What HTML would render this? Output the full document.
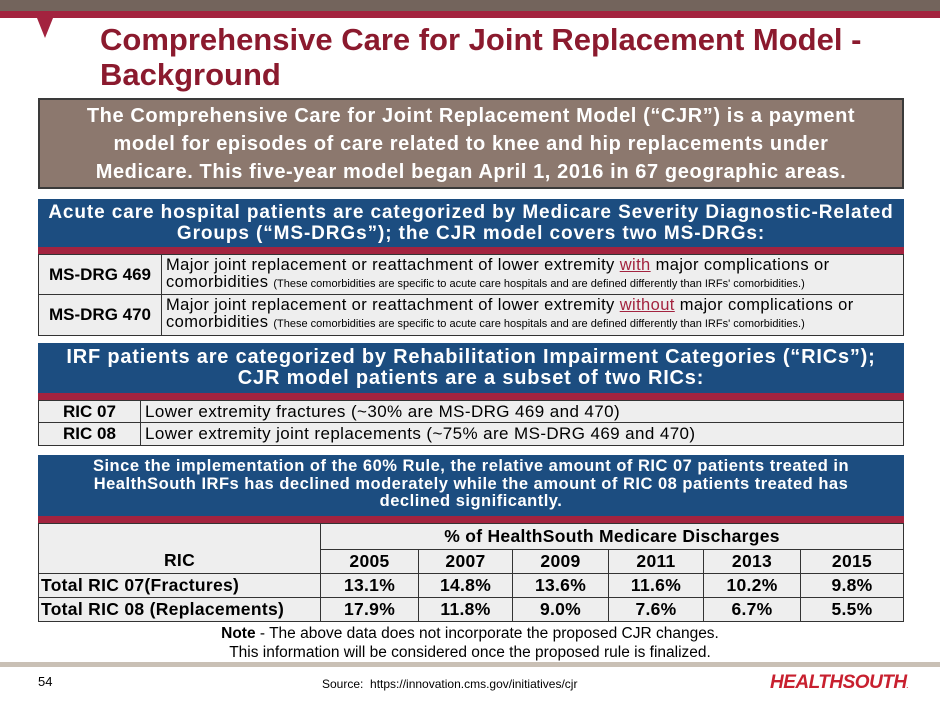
<!DOCTYPE html>
<html><head><meta charset="utf-8">
<style>
*{margin:0;padding:0;box-sizing:border-box}
body{width:940px;height:705px;position:relative;background:#fff;font-family:"Liberation Sans",Arial,sans-serif;overflow:hidden}
.a{position:absolute}
.blue{background:#1c4d80;color:#fff;font-weight:bold;text-align:center;white-space:nowrap}
.red{background:#a3233f}
table{border-collapse:collapse}
td{border:1px solid #333;background:#eeeeee;white-space:nowrap}
.lbl{font-weight:bold;text-align:center;font-size:17px}
</style></head><body>
<div class="a" style="left:0;top:0;width:940px;height:11px;background:#73645c"></div>
<div class="a red" style="left:0;top:11px;width:940px;height:7px"></div>
<div class="a" style="left:37px;top:18px;width:0;height:0;border-left:8px solid transparent;border-right:8px solid transparent;border-top:20px solid #a3233f"></div>
<div class="a" style="left:100px;top:22px;width:840px;font-size:31px;line-height:35px;font-weight:bold;color:#8b1a2e">Comprehensive Care for Joint Replacement Model -<br>Background</div>
<div class="a" style="left:38px;top:98px;width:866px;height:91px;background:#8c786e;border:2px solid #3a3a3a;color:#fff;font-weight:bold;font-size:20px;letter-spacing:0.6px;line-height:28px;text-align:center;padding-top:2px;white-space:nowrap">The Comprehensive Care for Joint Replacement Model (“CJR”) is a payment<br>model for episodes of care related to knee and hip replacements under<br>Medicare. This five-year model began April 1, 2016 in 67 geographic areas.</div>

<div class="a blue" style="left:38px;top:199px;width:866px;height:48px;font-size:19px;letter-spacing:0.9px;line-height:21px;padding-top:3px">Acute care hospital patients are categorized by Medicare Severity Diagnostic-Related<br>Groups (“MS-DRGs”); the CJR model covers two MS-DRGs:</div>
<div class="a red" style="left:38px;top:247px;width:866px;height:7px"></div>
<table class="a" style="left:38px;top:254px;width:866px">
<tr style="height:40px"><td class="lbl" style="width:123px">MS-DRG 469</td><td style="font-size:16.5px;letter-spacing:0.4px;line-height:17px;padding-left:4px">Major joint replacement or reattachment of lower extremity <span style="color:#a3233f;text-decoration:underline">with</span> major complications or<br>comorbidities <span style="font-size:11px;letter-spacing:0">(These comorbidities are specific to acute care hospitals and are defined differently than IRFs' comorbidities.)</span></td></tr>
<tr style="height:41px"><td class="lbl">MS-DRG 470</td><td style="font-size:16.5px;letter-spacing:0.4px;line-height:17px;padding-left:4px">Major joint replacement or reattachment of lower extremity <span style="color:#a3233f;text-decoration:underline">without</span> major complications or<br>comorbidities <span style="font-size:11px;letter-spacing:0">(These comorbidities are specific to acute care hospitals and are defined differently than IRFs' comorbidities.)</span></td></tr>
</table>

<div class="a blue" style="left:38px;top:343px;width:866px;height:50px;font-size:20px;letter-spacing:0.8px;line-height:21px;padding-top:4px">IRF patients are categorized by Rehabilitation Impairment Categories (“RICs”);<br>CJR model patients are a subset of two RICs:</div>
<div class="a red" style="left:38px;top:393px;width:866px;height:7px"></div>
<table class="a" style="left:38px;top:400px;width:866px">
<tr style="height:22px"><td class="lbl" style="width:102px">RIC 07</td><td style="font-size:17px;letter-spacing:0.4px;padding-left:4px">Lower extremity fractures (~30% are MS-DRG 469 and 470)</td></tr>
<tr style="height:23px"><td class="lbl">RIC 08</td><td style="font-size:17px;letter-spacing:0.4px;padding-left:4px">Lower extremity joint replacements (~75% are MS-DRG 469 and 470)</td></tr>
</table>

<div class="a blue" style="left:38px;top:455px;width:866px;height:61px;font-size:16.5px;letter-spacing:0.5px;line-height:17.5px;padding-top:3px">Since the implementation of the 60% Rule, the relative amount of RIC 07 patients treated in<br>HealthSouth IRFs has declined moderately while the amount of RIC 08 patients treated has<br>declined significantly.</div>
<div class="a red" style="left:38px;top:516px;width:866px;height:7px"></div>
<table class="a" style="left:38px;top:523px;width:866px;font-size:17.5px;letter-spacing:0.3px;font-weight:bold;text-align:center">
<tr style="height:26px"><td rowspan="2" style="width:282px;vertical-align:bottom;padding-bottom:2px">RIC</td><td colspan="6">% of HealthSouth Medicare Discharges</td></tr>
<tr style="height:24px"><td style="width:98px">2005</td><td style="width:94px">2007</td><td style="width:96px">2009</td><td style="width:95px">2011</td><td style="width:97px">2013</td><td>2015</td></tr>
<tr style="height:24px"><td style="text-align:left;padding-left:2px">Total RIC 07(Fractures)</td><td>13.1%</td><td>14.8%</td><td>13.6%</td><td>11.6%</td><td>10.2%</td><td>9.8%</td></tr>
<tr style="height:24px"><td style="text-align:left;padding-left:2px">Total RIC 08 (Replacements)</td><td>17.9%</td><td>11.8%</td><td>9.0%</td><td>7.6%</td><td>6.7%</td><td>5.5%</td></tr>
</table>

<div class="a" style="left:0;top:624px;width:940px;text-align:center;font-size:15.5px;line-height:19px"><b>Note</b> - The above data does not incorporate the proposed CJR changes.<br>This information will be considered once the proposed rule is finalized.</div>
<div class="a" style="left:0;top:662px;width:940px;height:5px;background:#c9c0b5"></div>
<div class="a" style="left:38px;top:674px;font-size:13px">54</div>
<div class="a" style="left:322px;top:677px;font-size:12px;white-space:nowrap">Source:&nbsp; https://innovation.cms.gov/initiatives/cjr</div>
<div class="a" style="left:770px;top:672px;font-size:19px;font-weight:bold;font-style:italic;color:#c8202f;letter-spacing:-0.5px">HEALTHSOUTH<span style="font-size:6px">.</span></div>
</body></html>
